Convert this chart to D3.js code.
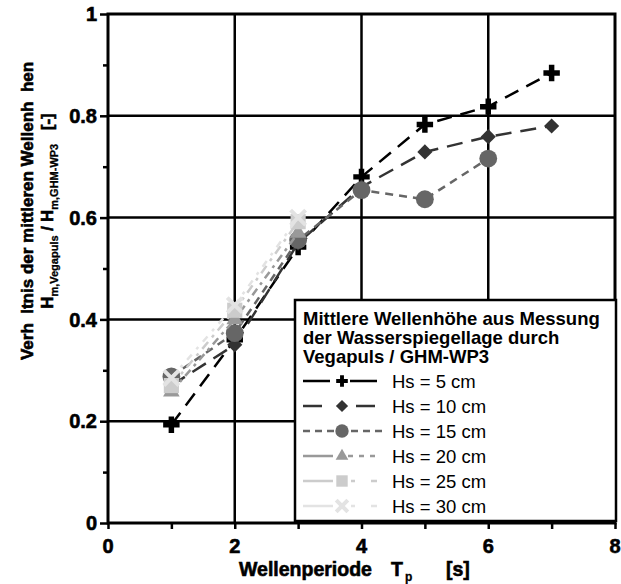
<!DOCTYPE html>
<html>
<head>
<meta charset="utf-8">
<script src="https://cdn.jsdelivr.net/npm/d3@7"></script>
<style>
  body { margin: 0; background: #fff; }
  svg text { font-family: "Liberation Sans", Arial, sans-serif; white-space: pre; }
</style>
</head>
<body>
<div id="chart"></div>
<script>
const width = 621, height = 584;
const margin = { top: 14, right: 6, bottom: 61, left: 108 };

// data
const seriesNames = ["Hs = 5 cm", "Hs = 10 cm", "Hs = 15 cm", "Hs = 20 cm", "Hs = 25 cm", "Hs = 30 cm"];
const periods5  = [1, 2, 3, 4, 5, 6, 7];
const values5   = [0.193, 0.36, 0.542, 0.68, 0.783, 0.818, 0.884];
const periods10 = [1, 2, 3, 4, 5, 6, 7];
const values10  = [0.27, 0.35, 0.55, 0.66, 0.729, 0.759, 0.78];
const periods15 = [1, 2, 3, 4, 5, 6];
const values15  = [0.288, 0.373, 0.556, 0.654, 0.636, 0.716];
const periods20 = [1, 2, 3];
const values20  = [0.258, 0.40, 0.57];
const periods25 = [1, 2, 3];
const values25  = [0.27, 0.418, 0.592];
const periods30 = [1, 2, 3];
const values30  = [0.285, 0.428, 0.60];

const xTicks = [0, 2, 4, 6, 8];
const yTicks = [0, 0.2, 0.4, 0.6, 0.8, 1];
const yTickLabels = ["0", "0.2", "0.4", "0.6", "0.8", "1"];

const colors = ["#000000", "#333333", "#666666", "#999999", "#cccccc", "#e3e3e3"];
const dashes = ["15,9", "16,9", "8,6", "8,5,3,5", "9,6,3,6", "7,7,3,7"];
const legendDashes = ["27,20", "19,34", "7,5", "30,15,5,6,5,6,5", "30,18,4,16,6", "30,18,4,16,6"];
const symbols = [d3.symbolCross, d3.symbolSquare, d3.symbolCircle, d3.symbolTriangle, d3.symbolSquare, d3.symbolX];
const markerSizes = [150, 115, 250, 120, 230, 150];
const legendSizes = [75, 75, 140, 70, 130, 90];

const series = [
  [periods5, values5], [periods10, values10], [periods15, values15],
  [periods20, values20], [periods25, values25], [periods30, values30]
].map((p, i) => ({ name: seriesNames[i], pts: p[0].map((t, j) => ({ t: t, v: p[1][j] })) }));

const svg = d3.select("#chart").append("svg")
  .attr("width", width).attr("height", height);

const x = d3.scaleLinear().domain([0, 8]).range([margin.left, width - margin.right]);
const y = d3.scaleLinear().domain([0, 1]).range([height - margin.bottom, margin.top]);

// heavy bold text like the original export
const heavy = sel => sel
  .style("font-weight", "bold")
  .style("stroke", "#000").style("stroke-width", "0.6px");

// grid
svg.append("g")
  .selectAll("line").data(xTicks.slice(1, -1)).join("line")
  .attr("x1", d => x(d)).attr("x2", d => x(d))
  .attr("y1", y(0)).attr("y2", y(1))
  .attr("stroke", "#000").attr("stroke-width", 2.5);
svg.append("g")
  .selectAll("line").data(yTicks.slice(1, -1)).join("line")
  .attr("x1", x(0)).attr("x2", x(8))
  .attr("y1", d => y(d)).attr("y2", d => y(d))
  .attr("stroke", "#000").attr("stroke-width", 2.5);

// axes (tick marks from d3, labels drawn below)
const isMajorY = d => Math.round(d * 10) % 2 === 0;
const xAxis = svg.append("g")
  .attr("transform", `translate(0,${y(0)})`)
  .call(d3.axisBottom(x).tickValues(d3.range(0, 9)).tickSize(6).tickFormat(""));
const yAxis = svg.append("g")
  .attr("transform", `translate(${x(0)},0)`)
  .call(d3.axisLeft(y).tickValues(d3.range(0, 11).map(d => d / 10)).tickSize(6).tickFormat(""));
[xAxis, yAxis].forEach(g => {
  g.select(".domain").remove();
  g.selectAll(".tick line").attr("stroke", "#000").attr("stroke-width", 2.5);
});
yAxis.selectAll(".tick line").attr("x2", d => isMajorY(d) ? -8 : -5);

svg.append("g").selectAll("text").data(xTicks).join("text")
  .attr("x", d => x(d)).attr("y", y(0) + 30)
  .attr("text-anchor", "middle")
  .style("font-size", "20px").call(heavy)
  .text(d => d);
svg.append("g").selectAll("text").data(yTicks).join("text")
  .attr("x", x(0) - 11).attr("y", d => y(d))
  .attr("dy", "0.36em").attr("text-anchor", "end")
  .style("font-size", "20px").call(heavy)
  .text((d, i) => yTickLabels[i]);

// frame
svg.append("rect")
  .attr("x", x(0)).attr("y", y(1))
  .attr("width", x(8) - x(0)).attr("height", y(0) - y(1))
  .attr("fill", "none").attr("stroke", "#000").attr("stroke-width", 3);

// lines and markers
const line = d3.line().x(d => x(d.t)).y(d => y(d.v));
const marker = (sel, i, size) => sel
  .attr("d", d3.symbol().type(symbols[i]).size(size))
  .attr("fill", i === 5 ? "none" : colors[i])
  .attr("stroke", colors[i])
  .attr("stroke-width", i === 5 ? 4 : 0);

series.forEach((s, i) => {
  const g = svg.append("g");
  g.append("path")
    .attr("d", line(s.pts))
    .attr("fill", "none")
    .attr("stroke", colors[i]).attr("stroke-width", 2.5)
    .attr("stroke-dasharray", dashes[i]);
  g.selectAll("path.m").data(s.pts).join("path")
    .attr("class", "m")
    .attr("transform", d => `translate(${x(d.t)},${y(d.v)})` + (i === 1 ? " rotate(45)" : ""))
    .call(marker, i, markerSizes[i]);
});

// legend
const lg = svg.append("g");
lg.append("rect")
  .attr("x", 295).attr("y", 300).attr("width", 321).attr("height", 221)
  .attr("fill", "#fff").attr("stroke", "#000").attr("stroke-width", 2.5);
const titleLines = ["Mittlere Wellenhöhe aus Messung", "der Wasserspiegellage durch", "Vegapuls / GHM-WP3"];
lg.selectAll("text.t").data(titleLines).join("text")
  .attr("x", 303).attr("y", (d, i) => 325 + i * 19)
  .style("font-size", "18.5px").style("font-weight", "bold")
  .text(d => d);
series.forEach((s, i) => {
  const yy = 381 + i * 25;
  lg.append("line")
    .attr("x1", 303).attr("x2", 382).attr("y1", yy).attr("y2", yy)
    .attr("stroke", colors[i]).attr("stroke-width", 2.5)
    .attr("stroke-dasharray", legendDashes[i]);
  lg.append("path")
    .attr("transform", `translate(342,${yy})` + (i === 1 ? " rotate(45)" : ""))
    .call(marker, i, legendSizes[i]);
  lg.append("text")
    .attr("x", 392).attr("y", yy + 7)
    .style("font-size", "18.5px")
    .text(s.name);
});

// axis titles
const xtBase = 576;
svg.append("text").attr("x", 239).attr("y", xtBase)
  .style("font-size", "19.5px").call(heavy).text("Wellenperiode");
svg.append("text").attr("x", 391).attr("y", xtBase)
  .style("font-size", "19.5px").call(heavy).text("T");
svg.append("text").attr("x", 405).attr("y", xtBase + 5)
  .style("font-size", "12px").call(heavy).style("stroke-width", "0.3px").text("p");
svg.append("text").attr("x", 446).attr("y", xtBase)
  .style("font-size", "19.5px").call(heavy).text("[s]");

const yt = svg.append("g").attr("transform", "translate(0,211) rotate(-90)");
yt.append("text")
  .attr("x", 0).attr("y", 33).attr("text-anchor", "middle")
  .style("font-size", "17px").call(heavy)
  .text("Verh  ltnis der mittleren Wellenh  hen");
const yt2 = yt.append("text")
  .attr("x", 0).attr("y", 53).attr("text-anchor", "middle")
  .style("font-size", "16.5px").call(heavy);
yt2.append("tspan").text("H");
yt2.append("tspan").attr("dy", 5).style("font-size", "11px").style("stroke-width", "0.3px").text("m,Vegapuls");
yt2.append("tspan").attr("dy", -5).text(" / H");
yt2.append("tspan").attr("dy", 5).style("font-size", "11px").style("stroke-width", "0.3px").text("m,GHM-WP3");
yt2.append("tspan").attr("dy", -5).text("   [-]");
</script>
</body>
</html>
